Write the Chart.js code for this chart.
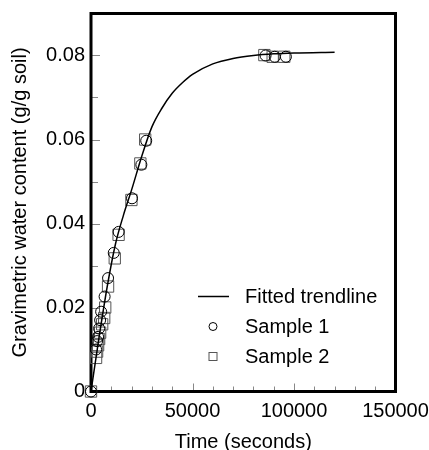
<!DOCTYPE html>
<html>
<head>
<meta charset="utf-8">
<script src="https://cdn.jsdelivr.net/npm/chart.js@4.4.0/dist/chart.umd.min.js"></script>
<style>
  html, body { margin: 0; padding: 0; background: #fff; }
  #wrap { width: 429px; height: 450px; }
</style>
</head>
<body>
<div id="wrap"><canvas id="myGraph" width="429" height="450"></canvas></div>
<script>
// fitted curve
const trendTime = [0, 4000, 8000, 12000, 16000, 20000, 25000, 30000, 35000, 40000, 45000, 50000, 60000, 70000, 80000, 90000, 100000, 120000]
const trendWater = [0, 0.013, 0.025, 0.035, 0.042, 0.048, 0.056, 0.063, 0.0675, 0.071, 0.0735, 0.0755, 0.078, 0.0793, 0.08, 0.0804, 0.0806, 0.0808]

const sample1Time = [0, 2500, 3000, 3500, 4000, 4500, 5000, 6700, 8400, 11200, 13600, 20200, 24800, 27200, 86000, 90500, 96000]
const sample1Water = [0, 0.010, 0.012, 0.013, 0.015, 0.017, 0.019, 0.0226, 0.027, 0.033, 0.038, 0.046, 0.054, 0.0597, 0.080, 0.0797, 0.0797]

const sample2Time = [0, 2500, 3000, 3500, 4000, 4500, 5500, 6500, 7000, 8400, 11700, 13600, 19900, 24300, 26700, 85400, 89500, 95200]
const sample2Water = [0, 0.008, 0.0095, 0.011, 0.0125, 0.014, 0.016, 0.0175, 0.020, 0.025, 0.0317, 0.0373, 0.0456, 0.0543, 0.060, 0.0801, 0.0797, 0.0797]

const xTickStep = 10000
const xLabelEvery = 50000
const yTickStep = 0.01

const FONT = "'Liberation Sans', Arial, Helvetica, sans-serif"

const toPoints = (xs, ys) => xs.map((x, i) => ({ x: x, y: ys[i] }))

// thick box round the plot and small inward tick marks
const frameAndTicks = {
  id: 'frameAndTicks',
  beforeDatasetsDraw(chart) {
    const { ctx, chartArea: a, scales: { x, y } } = chart
    ctx.save()
    ctx.strokeStyle = '#888'
    ctx.lineWidth = 1
    x.ticks.forEach((t) => {
      const px = Math.round(x.getPixelForValue(t.value)) + 0.5
      const len = t.value % xLabelEvery === 0 ? 8 : 5
      ctx.beginPath()
      ctx.moveTo(px, a.bottom)
      ctx.lineTo(px, a.bottom - len)
      ctx.stroke()
    })
    y.ticks.forEach((t) => {
      const py = Math.round(y.getPixelForValue(t.value)) + 0.5
      const len = Math.round(t.value * 100) % 2 === 0 ? 9 : 7
      ctx.beginPath()
      ctx.moveTo(a.left, py)
      ctx.lineTo(a.left + len, py)
      ctx.stroke()
    })
    ctx.strokeStyle = '#000'
    ctx.lineWidth = 3
    ctx.strokeRect(a.left, a.top, a.right - a.left, a.bottom - a.top)
    ctx.restore()
  },
}

// legend sitting inside the plot, lower right
const innerLegend = {
  id: 'innerLegend',
  afterDraw(chart) {
    const { ctx, chartArea: a } = chart
    const lx = a.left + 122
    const tx = a.left + 154
    let ly = a.bottom - 95
    ctx.save()
    ctx.font = '20px ' + FONT
    ctx.fillStyle = '#000'
    ctx.textBaseline = 'middle'
    chart.data.datasets.forEach((ds) => {
      ctx.strokeStyle = ds.borderColor
      ctx.lineWidth = 1
      if (ds.showLine) {
        ctx.lineWidth = 1.5
        ctx.beginPath()
        ctx.moveTo(lx - 15, ly)
        ctx.lineTo(lx + 16, ly)
        ctx.stroke()
      } else if (ds.pointStyle === 'circle') {
        ctx.beginPath()
        ctx.arc(lx, ly, 4, 0, Math.PI * 2)
        ctx.stroke()
      } else {
        ctx.strokeRect(lx - 4, ly - 4, 8, 8)
      }
      ctx.fillText(ds.label, tx, ly + 1)
      ly += 30
    })
    ctx.restore()
  },
}

const ctx = document.getElementById('myGraph').getContext('2d')

new Chart(ctx, {
  type: 'scatter',
  data: {
    datasets: [
      {
        label: 'Fitted trendline',
        data: toPoints(trendTime, trendWater),
        showLine: true,
        borderColor: '#000',
        borderWidth: 1.5,
        pointRadius: 0,
        cubicInterpolationMode: 'monotone',
        fill: false,
      },
      {
        label: 'Sample 1',
        data: toPoints(sample1Time, sample1Water),
        pointStyle: 'circle',
        pointRadius: 5.5,
        borderColor: '#000',
        backgroundColor: 'rgba(0,0,0,0)',
        borderWidth: 1,
        clip: false,
      },
      {
        label: 'Sample 2',
        data: toPoints(sample2Time, sample2Water),
        pointStyle: 'rect',
        pointRadius: 8,
        borderColor: '#555',
        backgroundColor: 'rgba(0,0,0,0)',
        borderWidth: 1,
        clip: false,
      },
    ],
  },
  options: {
    responsive: false,
    animation: false,
    layout: { padding: { top: 13.5, right: 33.5, left: 0, bottom: 0 } },
    plugins: {
      legend: { display: false },
      tooltip: { enabled: false },
    },
    scales: {
      x: {
        type: 'linear',
        min: 0,
        max: 150000,
        grid: { display: false, drawTicks: false },
        border: { display: false },
        ticks: {
          stepSize: xTickStep,
          autoSkip: false,
          maxRotation: 0,
          padding: 8,
          color: '#000',
          font: { family: FONT, size: 20 },
          callback: (v) => (v % xLabelEvery === 0 ? String(v) : ''),
        },
        title: {
          display: true,
          text: 'Time (seconds)',
          color: '#000',
          font: { family: FONT, size: 20 },
          padding: { top: 0, bottom: -4 },
        },
        afterFit: (scale) => {
          scale.height = 58.5
          scale.paddingLeft = 0
          scale.paddingRight = 0
        },
      },
      y: {
        type: 'linear',
        min: 0,
        max: 0.09,
        grid: { display: false, drawTicks: false },
        border: { display: false },
        ticks: {
          stepSize: yTickStep,
          autoSkip: false,
          padding: 6,
          color: '#000',
          font: { family: FONT, size: 20 },
          callback: (v) => {
            const h = Math.round(v * 100)
            if (h % 2 !== 0 || h > 8) return ''
            return h === 0 ? '0' : (h / 100).toFixed(2)
          },
        },
        title: {
          display: true,
          text: 'Gravimetric water content (g/g soil)',
          color: '#000',
          font: { family: FONT, size: 20 },
          padding: { top: 8, bottom: 0 },
        },
        afterFit: (scale) => {
          scale.width = 91
          scale.paddingTop = 0
          scale.paddingBottom = 0
        },
      },
    },
  },
  plugins: [frameAndTicks, innerLegend],
})
</script>
</body>
</html>
